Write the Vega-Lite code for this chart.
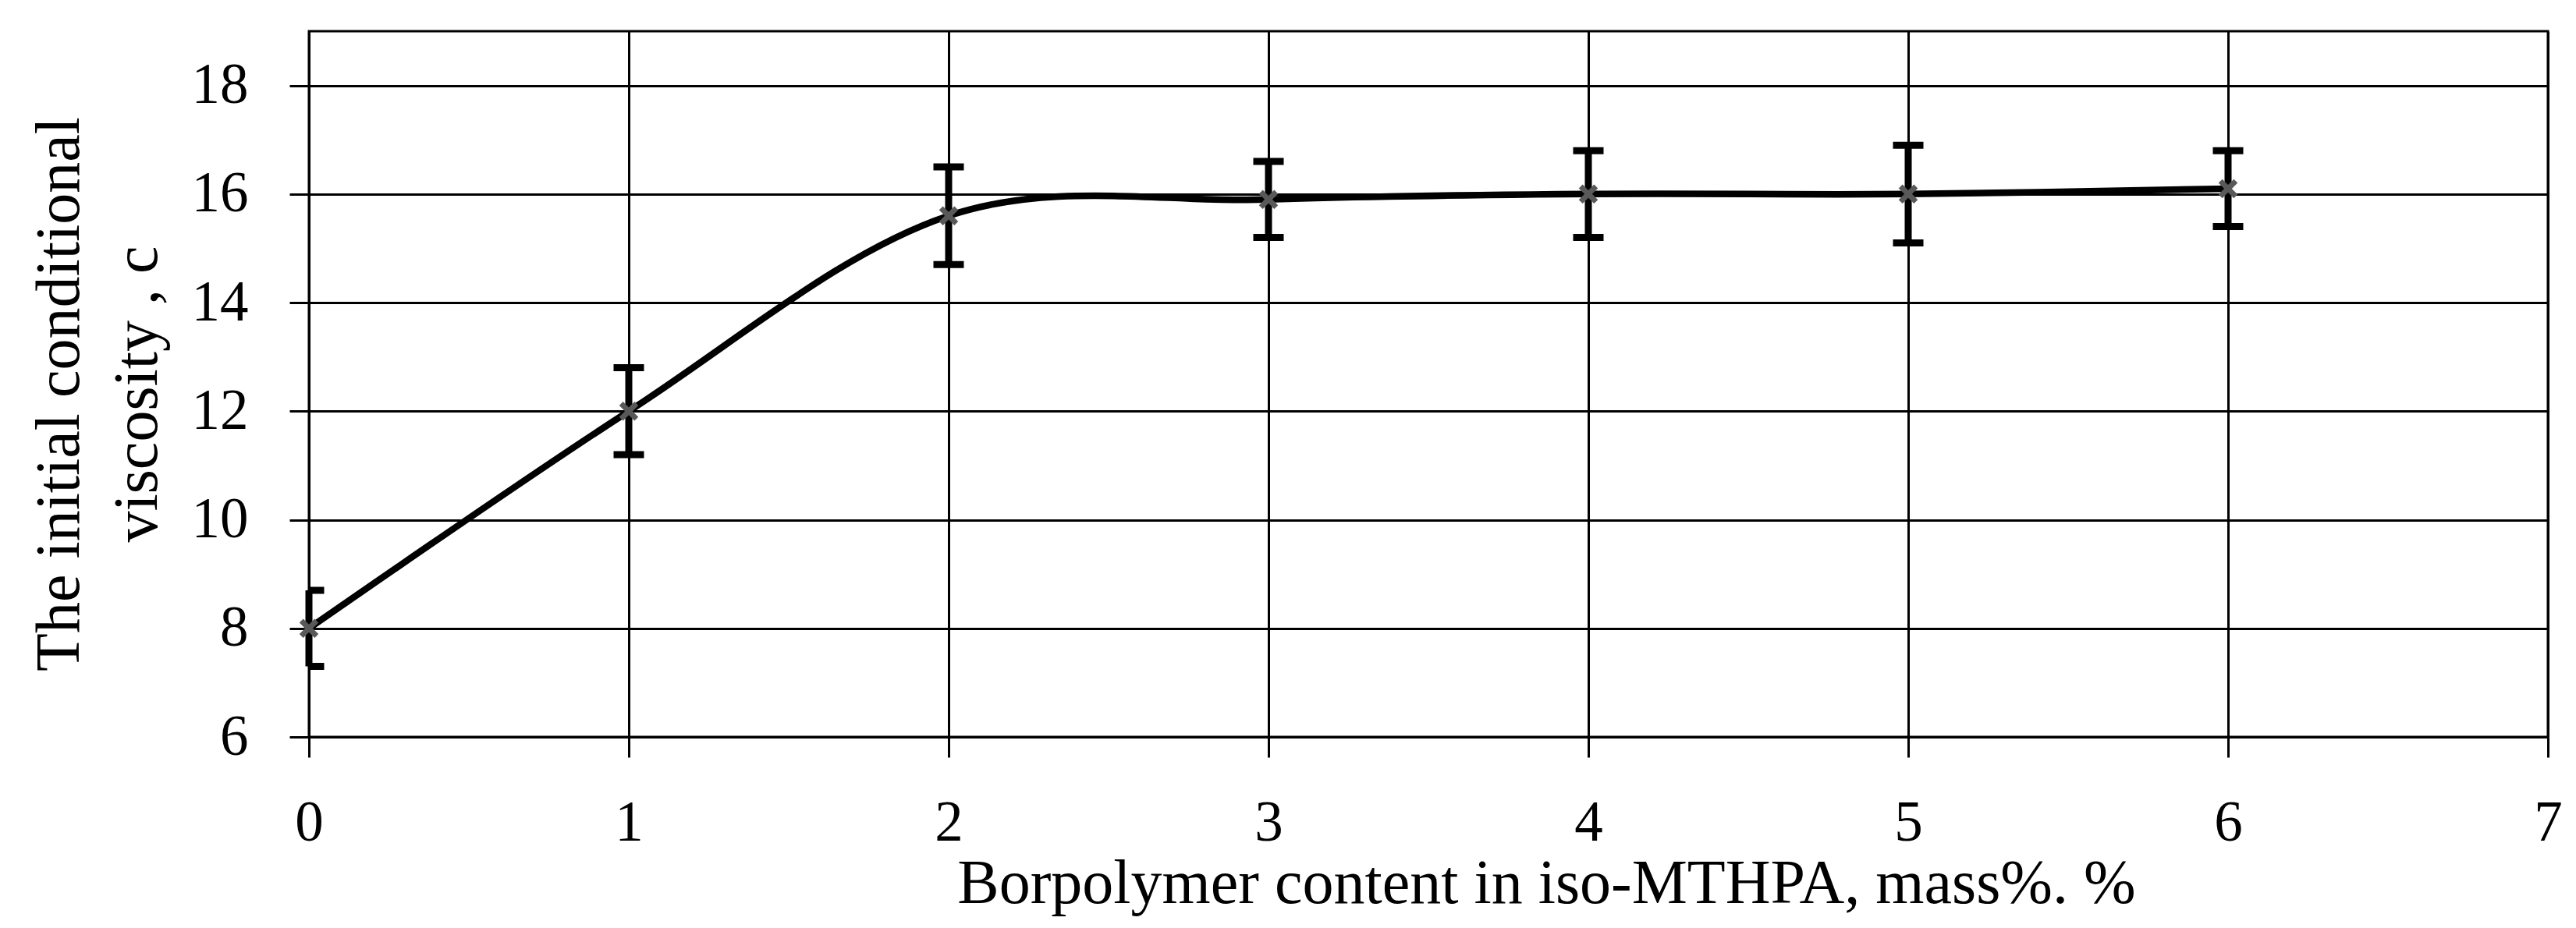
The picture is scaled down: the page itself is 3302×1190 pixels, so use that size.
{
  "$schema": "https://vega.github.io/schema/vega-lite/v6.json",
  "description": "Initial conditional viscosity vs borpolymer content in iso-MTHPA",
  "width": 2870,
  "height": 905,
  "autosize": "none",
  "padding": {"left": 396, "top": 40, "right": 36, "bottom": 245},
  "background": "white",
  "config": {
    "font": "Liberation Serif",
    "view": {"stroke": "black", "strokeWidth": 3},
    "axis": {
      "domainColor": "black",
      "domainWidth": 3,
      "gridColor": "black",
      "gridWidth": 3,
      "gridOpacity": 1,
      "tickColor": "black",
      "tickWidth": 3,
      "labelColor": "black",
      "labelFont": "Liberation Serif",
      "labelFontSize": 73,
      "labelFontWeight": "normal",
      "labelFlush": false,
      "titleColor": "black",
      "titleFont": "Liberation Serif",
      "titleFontSize": 80,
      "titleFontWeight": "normal"
    }
  },
  "data": {
    "values": [
      {"x": 0, "y": 8.0, "lo": 7.3, "hi": 8.7},
      {"x": 1, "y": 12.0, "lo": 11.2, "hi": 12.8},
      {"x": 2, "y": 15.6, "lo": 14.7, "hi": 16.5},
      {"x": 3, "y": 15.9, "lo": 15.2, "hi": 16.6},
      {"x": 4, "y": 16.0, "lo": 15.2, "hi": 16.8},
      {"x": 5, "y": 16.0, "lo": 15.1, "hi": 16.9},
      {"x": 6, "y": 16.1, "lo": 15.4, "hi": 16.8}
    ]
  },
  "encoding": {
    "x": {
      "field": "x",
      "type": "quantitative",
      "scale": {"domain": [0, 7], "nice": false, "zero": false},
      "axis": {
        "values": [0, 1, 2, 3, 4, 5, 6, 7],
        "format": "d",
        "title": "Borpolymer content in iso-MTHPA, mass%. %",
        "tickSize": 26,
        "labelBaseline": "alphabetic",
        "labelPadding": 106,
        "titleX": 1586,
        "titleY": 212,
        "titleAlign": "center",
        "titleBaseline": "alphabetic"
      }
    }
  },
  "layer": [
    {
      "mark": {"type": "line", "color": "black", "strokeWidth": 8.5, "interpolate": "cardinal", "tension": 0},
      "encoding": {
        "y": {
          "field": "y",
          "type": "quantitative",
          "scale": {"domain": [6, 19], "nice": false, "zero": false},
          "axis": {
            "values": [6, 8, 10, 12, 14, 16, 18],
            "format": "d",
            "title": ["The initial conditional", "viscosity , c"],
            "tickSize": 25,
            "labelPadding": 53,
            "titleAngle": 270,
            "titleX": -296,
            "titleY": 465,
            "titleAlign": "center",
            "titleBaseline": "alphabetic",
            "titleLineHeight": 100
          }
        }
      }
    },
    {
      "mark": {"type": "rule", "color": "black", "strokeWidth": 9},
      "encoding": {
        "y": {"field": "lo", "type": "quantitative"},
        "y2": {"field": "hi"}
      }
    },
    {
      "mark": {"type": "tick", "orient": "horizontal", "color": "black", "size": 39, "thickness": 9, "opacity": 1, "clip": true},
      "encoding": {
        "y": {"field": "lo", "type": "quantitative"}
      }
    },
    {
      "mark": {"type": "tick", "orient": "horizontal", "color": "black", "size": 39, "thickness": 9, "opacity": 1, "clip": true},
      "encoding": {
        "y": {"field": "hi", "type": "quantitative"}
      }
    },
    {
      "mark": {
        "type": "point",
        "filled": true,
        "opacity": 1,
        "color": "#595959",
        "size": 600,
        "shape": "M-1,-0.6L-0.6,-1L0,-0.4L0.6,-1L1,-0.6L0.4,0L1,0.6L0.6,1L0,0.4L-0.6,1L-1,0.6L-0.4,0Z"
      },
      "encoding": {
        "y": {"field": "y", "type": "quantitative"}
      }
    }
  ]
}
